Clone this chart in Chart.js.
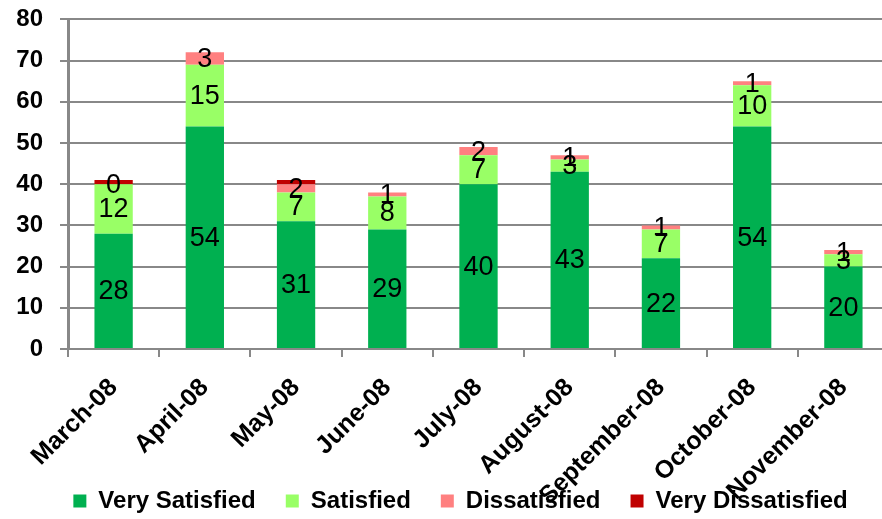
<!DOCTYPE html>
<html>
<head>
<meta charset="utf-8">
<script src="https://cdn.jsdelivr.net/npm/chart.js@4"></script>
<style>
  html, body { margin: 0; padding: 0; background: #fff; overflow: hidden; }
  #wrap { width: 889px; height: 519px; }
</style>
</head>
<body>
<div id="wrap"><canvas id="survey"></canvas></div>
<script>
var months = ["March-08", "April-08", "May-08", "June-08", "July-08", "August-08", "September-08", "October-08", "November-08"];
var verySatisfied = [28, 54, 31, 29, 40, 43, 22, 54, 20];
var satisfied = [12, 15, 7, 8, 7, 3, 7, 10, 3];
var dissatisfied = [0, 3, 2, 1, 2, 1, 1, 1, 1];
var veryDissatisfied = [1, 0, 1, 0, 0, 0, 0, 0, 0];
var yTicks = [0, 10, 20, 30, 40, 50, 60, 70, 80];

var font = "'Liberation Sans', Arial, sans-serif";
var grey = "#888888";

// numbers in the middle of each segment (Excel showed them for the first 3 series)
var segmentLabels = {
    id: 'segmentLabels',
    afterLayout: function(chart) {
        // let the long month names run into the legend strip instead of being clipped
        chart.scales.x.bottom = chart.height;
        chart.legend.left += 16;
        chart.legend.right += 16;
    },
    afterDatasetsDraw: function(chart) {
        var ctx = chart.ctx;
        ctx.save();
        ctx.font = "27px " + font;
        ctx.fillStyle = "#000";
        ctx.textAlign = "center";
        ctx.textBaseline = "middle";
        for (var i = 0; i < 3; i++) {
            var meta = chart.getDatasetMeta(i);
            var values = chart.data.datasets[i].data;
            meta.data.forEach(function(bar, j) {
                ctx.fillText(values[j], bar.x, (bar.y + bar.base) / 2 + 1);
            });
        }
        ctx.restore();
    }
};

var survey = document.getElementById('survey').getContext('2d');
new Chart(survey, {
    type: 'bar',
    data: {
        labels: months,
        datasets: [
            { label: 'Very Satisfied', data: verySatisfied, backgroundColor: '#00B050' },
            { label: 'Satisfied', data: satisfied, backgroundColor: '#99FF66' },
            { label: 'Dissatisfied', data: dissatisfied, backgroundColor: '#FF8080' },
            { label: 'Very Dissatisfied', data: veryDissatisfied, backgroundColor: '#C00000' }
        ]
    },
    options: {
        responsive: true,
        maintainAspectRatio: false,
        animation: false,
        layout: { padding: { top: 0, right: 0, left: 0, bottom: -4 } },
        datasets: { bar: { barPercentage: 0.84, categoryPercentage: 0.5 } },
        plugins: {
            tooltip: { enabled: false },
            legend: {
                position: 'bottom',
                labels: {
                    color: '#000',
                    font: { family: font, size: 24, weight: 'bold' },
                    boxWidth: 13,
                    boxHeight: 13,
                    padding: 30
                }
            }
        },
        scales: {
            x: {
                stacked: true,
                afterFit: function(scale) { scale.height = 110; },
                grid: { drawOnChartArea: false, color: grey, lineWidth: 2, tickLength: 8 },
                border: { color: grey, width: 2 },
                ticks: {
                    color: '#000',
                    font: { family: font, size: 25, weight: 'bold' },
                    minRotation: 45,
                    maxRotation: 45,
                    padding: 16,
                    autoSkip: false
                }
            },
            y: {
                stacked: true,
                min: 0,
                max: 80,
                afterFit: function(scale) { scale.width = 68; },
                afterBuildTicks: function(scale) {
                    scale.ticks = yTicks.map(function(v) { return { value: v }; });
                },
                grid: { color: grey, lineWidth: 2, tickLength: 8 },
                border: { color: grey, width: 3 },
                ticks: {
                    color: '#000',
                    font: { family: font, size: 24, weight: 'bold', lineHeight: 0.2 },
                    padding: 17
                }
            }
        }
    },
    plugins: [segmentLabels]
});
</script>
</body>
</html>
